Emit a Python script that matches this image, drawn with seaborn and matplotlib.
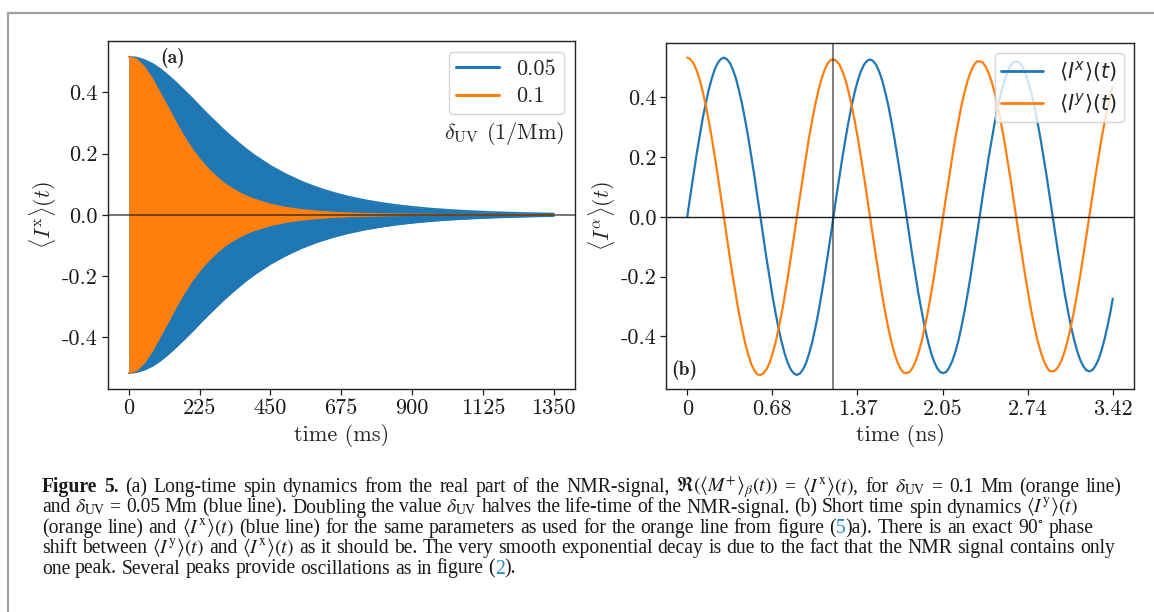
import matplotlib
matplotlib.use("Agg")
import matplotlib.pyplot as plt
import numpy as np
import pandas as pd
import seaborn as sns
from matplotlib.lines import Line2D
from matplotlib.font_manager import FontProperties

# ---------------- data ----------------
# (a) envelope of the fast NMR oscillation, long time scale
time_long_ms = [0, 25, 50, 75, 100, 125, 150, 175, 200, 225, 250, 275, 300, 325,
                350, 375, 400, 450, 500, 550, 600, 650, 700, 750, 800, 850, 900,
                950, 1000, 1050, 1100, 1150, 1200, 1250, 1300, 1350]
envelope_005 = [0.516, 0.513, 0.505, 0.493, 0.476, 0.455, 0.432, 0.407, 0.382,
                0.355, 0.329, 0.304, 0.279, 0.256, 0.234, 0.213, 0.194, 0.160,
                0.132, 0.108, 0.0884, 0.0723, 0.0591, 0.0482, 0.0394, 0.0321,
                0.0262, 0.0213, 0.0174, 0.0142, 0.0116, 0.0094, 0.0077, 0.0063,
                0.0051, 0.0042]
envelope_01 = [0.516, 0.507, 0.481, 0.443, 0.396, 0.349, 0.301, 0.256, 0.216,
               0.182, 0.152, 0.127, 0.105, 0.0873, 0.0724, 0.0600, 0.0497, 0.0341,
               0.0233, 0.0160, 0.0110, 0.0075, 0.0051, 0.0035, 0.0024, 0.0016,
               0.0011, 0.0008, 0.0005, 0.0004, 0.0002, 0.0002, 0.0001, 0.0001,
               0.0, 0.0]
delta_labels = ["0.05", "0.1"]
x_ticks_long = [0, 225, 450, 675, 900, 1125, 1350]
x_tick_labels_long = ["0", "225", "450", "675", "900", "1125", "1350"]
y_ticks = [0.4, 0.2, 0.0, -0.2, -0.4]
y_tick_labels = ["0.4", "0.2", "0.0", "-0.2", "-0.4"]

# (b) short time dynamics
time_short_ns = [
    0.000, 0.024, 0.049, 0.073, 0.098, 0.122, 0.147, 0.171, 0.196, 0.220, 0.245, 0.269,
    0.294, 0.318, 0.343, 0.367, 0.392, 0.416, 0.441, 0.465, 0.490, 0.514, 0.539, 0.563,
    0.588, 0.612, 0.636, 0.661, 0.685, 0.710, 0.734, 0.759, 0.783, 0.808, 0.832, 0.857,
    0.881, 0.906, 0.930, 0.955, 0.979, 1.004, 1.028, 1.053, 1.077, 1.102, 1.126, 1.151,
    1.175, 1.199, 1.224, 1.248, 1.273, 1.297, 1.322, 1.346, 1.371, 1.395, 1.420, 1.444,
    1.469, 1.493, 1.518, 1.542, 1.567, 1.591, 1.616, 1.640, 1.665, 1.689, 1.714, 1.738,
    1.762, 1.787, 1.811, 1.836, 1.860, 1.885, 1.909, 1.934, 1.958, 1.983, 2.007, 2.032,
    2.056, 2.081, 2.105, 2.130, 2.154, 2.179, 2.203, 2.228, 2.252, 2.277, 2.301, 2.326,
    2.350, 2.374, 2.399, 2.423, 2.448, 2.472, 2.497, 2.521, 2.546, 2.570, 2.595, 2.619,
    2.644, 2.668, 2.693, 2.717, 2.742, 2.766, 2.791, 2.815, 2.840, 2.864, 2.889, 2.913,
    2.937, 2.962, 2.986, 3.011, 3.035, 3.060, 3.084, 3.109, 3.133, 3.158, 3.182, 3.207,
    3.231, 3.256, 3.280, 3.305, 3.329, 3.354, 3.378, 3.403, 3.420]
ix_short = [
    0.000, 0.069, 0.138, 0.204, 0.266, 0.324, 0.376, 0.422, 0.461, 0.492, 0.514, 0.527,
    0.532, 0.527, 0.514, 0.492, 0.461, 0.422, 0.376, 0.324, 0.266, 0.204, 0.138, 0.069,
    0.000, -0.069, -0.137, -0.202, -0.265, -0.322, -0.374, -0.420, -0.458, -0.489, -0.511, -0.524,
    -0.529, -0.524, -0.511, -0.489, -0.458, -0.420, -0.374, -0.322, -0.265, -0.202, -0.137, -0.069,
    0.000, 0.069, 0.136, 0.201, 0.263, 0.320, 0.372, 0.417, 0.456, 0.486, 0.508, 0.521,
    0.526, 0.521, 0.508, 0.486, 0.456, 0.417, 0.372, 0.320, 0.263, 0.201, 0.136, 0.069,
    0.000, -0.068, -0.135, -0.200, -0.262, -0.318, -0.370, -0.415, -0.453, -0.483, -0.505, -0.519,
    -0.523, -0.519, -0.505, -0.483, -0.453, -0.415, -0.370, -0.318, -0.262, -0.200, -0.135, -0.068,
    0.000, 0.068, 0.135, 0.199, 0.260, 0.317, 0.368, 0.413, 0.450, 0.480, 0.502, 0.516,
    0.520, 0.516, 0.502, 0.480, 0.450, 0.413, 0.368, 0.317, 0.260, 0.199, 0.135, 0.068,
    0.000, -0.067, -0.134, -0.198, -0.259, -0.315, -0.366, -0.410, -0.448, -0.478, -0.499, -0.513,
    -0.517, -0.513, -0.499, -0.478, -0.448, -0.410, -0.366, -0.315, -0.274]
iy_short = [
    0.532, 0.527, 0.514, 0.492, 0.461, 0.422, 0.376, 0.324, 0.266, 0.204, 0.138, 0.069,
    0.000, -0.069, -0.138, -0.204, -0.266, -0.324, -0.376, -0.422, -0.461, -0.492, -0.514, -0.527,
    -0.529, -0.524, -0.511, -0.489, -0.458, -0.420, -0.374, -0.322, -0.265, -0.202, -0.137, -0.069,
    0.000, 0.069, 0.137, 0.202, 0.265, 0.322, 0.374, 0.420, 0.458, 0.489, 0.511, 0.524,
    0.526, 0.521, 0.508, 0.486, 0.456, 0.417, 0.372, 0.320, 0.263, 0.201, 0.136, 0.069,
    0.000, -0.069, -0.136, -0.201, -0.263, -0.320, -0.372, -0.417, -0.456, -0.486, -0.508, -0.521,
    -0.523, -0.519, -0.505, -0.483, -0.453, -0.415, -0.370, -0.318, -0.262, -0.200, -0.135, -0.068,
    0.000, 0.068, 0.135, 0.200, 0.262, 0.318, 0.370, 0.415, 0.453, 0.483, 0.505, 0.519,
    0.520, 0.516, 0.502, 0.480, 0.450, 0.413, 0.368, 0.317, 0.260, 0.199, 0.135, 0.068,
    0.000, -0.068, -0.135, -0.199, -0.260, -0.317, -0.368, -0.413, -0.450, -0.480, -0.502, -0.516,
    -0.517, -0.513, -0.499, -0.478, -0.448, -0.410, -0.366, -0.315, -0.259, -0.198, -0.134, -0.067,
    0.000, 0.067, 0.134, 0.198, 0.259, 0.315, 0.366, 0.410, 0.436]
short_labels = [r"$\langle I^x\rangle(t)$", r"$\langle I^y\rangle(t)$"]
x_ticks_short = [0, 0.684, 1.368, 2.052, 2.736, 3.42]
x_tick_labels_short = ["0", "0.68", "1.37", "2.05", "2.74", "3.42"]
period_marker_ns = 1.175

caption_lines = [
    r"*Figure *5. (a) Long-time spin dynamics from the real part of the NMR-signal, $\Re(\langle{}M^{+}\rangle_{\beta}(t))$ = $\langle{}I^{\mathrm{x}}\rangle(t)$, for $\delta_{\mathrm{UV}}$ = 0.1 Mm (orange line)",
    r"and $\delta_{\mathrm{UV}}$ = 0.05 Mm (blue line). Doubling the value $\delta_{\mathrm{UV}}$ halves the life-time of the NMR-signal. (b) Short time spin dynamics $\langle{}I^{\mathrm{y}}\rangle(t)$",
    r"(orange line) and $\langle{}I^{\mathrm{x}}\rangle(t)$ (blue line) for the same parameters as used for the orange line from figure (#5#)a). There is an exact 90$^{\circ}$ phase",
    r"shift between $\langle{}I^{\mathrm{y}}\rangle(t)$ and $\langle{}I^{\mathrm{x}}\rangle(t)$ as it should be. The very smooth exponential decay is due to the fact that the NMR signal contains only",
    r"one peak. Several peaks provide oscillations as in figure (#2#).",
]

# ---------------- style ----------------
BLUE = "#1f77b4"
ORANGE = "#ff7f0e"
sns.set_theme(style="ticks")
plt.rcParams["font.family"] = ["cmr10", "DejaVu Serif"]
plt.rcParams["mathtext.fontset"] = "cm"
plt.rcParams["axes.unicode_minus"] = False
plt.rcParams["axes.formatter.use_mathtext"] = True

FW, FH = 1154, 612
fig = plt.figure(figsize=(FW / 100, FH / 100), dpi=100)
fig.patch.set_facecolor("white")

axL = fig.add_axes([107.5 / FW, 1 - 389 / FH, 467.5 / FW, 348.3 / FH])
axR = fig.add_axes([666 / FW, 1 - 389.3 / FH, 468 / FW, 346.6 / FH])

# ---------------- panel (a) ----------------
dfL = pd.DataFrame({"t": time_long_ms, "e05": envelope_005, "e10": envelope_01})
for col, color in (("e05", BLUE), ("e10", ORANGE)):
    axL.fill_between(dfL["t"], -dfL[col], dfL[col], color=color, lw=0, zorder=1)
    sns.lineplot(x=dfL["t"], y=dfL[col], ax=axL, color=color, lw=1.2, zorder=1.5)
    sns.lineplot(x=dfL["t"], y=-dfL[col], ax=axL, color=color, lw=1.2, zorder=1.5)
axL.axhline(0, color="k", lw=1.3, alpha=0.65, zorder=3)
axL.set_xlim(-67.5, 1417.5)
axL.set_ylim(-0.568, 0.568)
axL.set_xticks(x_ticks_long)
axL.set_xticklabels(x_tick_labels_long)
axL.set_yticks(y_ticks)
axL.set_yticklabels(y_tick_labels)
axL.set_xlabel("time (ms)", fontsize=16, labelpad=4)
axL.set_ylabel(r"$\langle I^{\rm x}\rangle(t)$", fontsize=16, labelpad=2)
handlesL = [Line2D([], [], color=BLUE, lw=2.2), Line2D([], [], color=ORANGE, lw=2.2)]
legL = axL.legend(handlesL, delta_labels, loc="upper right", fontsize=16,
                  frameon=True, fancybox=True, framealpha=0.8, edgecolor="0.8",
                  handlelength=1.9, labelspacing=0.35, borderpad=0.35)
axL.text(0.977, 0.734, r"$\delta_{\rm UV}$ (1/Mm)", transform=axL.transAxes,
         ha="right", va="center", fontsize=16)
axL.text(0.112, 0.937, "(a)", transform=axL.transAxes, ha="left", va="baseline",
         fontsize=14, family="cmb10")

# ---------------- panel (b) ----------------
dfR = pd.DataFrame({"t": time_short_ns, "ix": ix_short, "iy": iy_short})
sns.lineplot(data=dfR, x="t", y="ix", ax=axR, color=BLUE, lw=1.6)
sns.lineplot(data=dfR, x="t", y="iy", ax=axR, color=ORANGE, lw=1.6)
axR.axhline(0, color="k", lw=1.0, zorder=3)
axR.axvline(period_marker_ns, color="k", lw=1.2, alpha=0.65, zorder=3)
axR.set_xlim(-0.171, 3.591)
axR.set_ylim(-0.577, 0.582)
axR.set_xticks(x_ticks_short)
axR.set_xticklabels(x_tick_labels_short)
axR.set_yticks(y_ticks)
axR.set_yticklabels(y_tick_labels)
axR.set_xlabel("time (ns)", fontsize=16, labelpad=4)
axR.set_ylabel(r"$\langle I^{\alpha}\rangle(t)$", fontsize=16, labelpad=2)
handlesR = [Line2D([], [], color=BLUE, lw=2.0), Line2D([], [], color=ORANGE, lw=2.0)]
legR = axR.legend(handlesR, short_labels, loc="upper right",
                  prop=FontProperties(family="DejaVu Sans", size=15, math_fontfamily="dejavusans"),
                  frameon=True, fancybox=True, framealpha=0.8, edgecolor="0.8",
                  handlelength=2.0, labelspacing=0.3, borderpad=0.3)
axR.text(0.012, 0.041, "(b)", transform=axR.transAxes, ha="left", va="baseline",
         fontsize=14, family="cmb10")

for ax in (axL, axR):
    ax.tick_params(axis="both", which="both", direction="out", length=4, width=0.9,
                   labelsize=16, pad=3, top=False, right=False, colors="k")
    for s in ax.spines.values():
        s.set_visible(True)
        s.set_color("#222222")
        s.set_linewidth(1.0)
    ax.grid(False)
    ax.set_facecolor("white")

# ---------------- page border ----------------
fig.add_artist(Line2D([8 / FW, 1.0], [1 - 12.5 / FH, 1 - 12.5 / FH], transform=fig.transFigure,
                      color="#a0a0a0", lw=1.6))
fig.add_artist(Line2D([8 / FW, 8 / FW], [0.0, 1 - 12.5 / FH], transform=fig.transFigure,
                      color="#a0a0a0", lw=1.6))

# ---------------- caption (justified) ----------------
LINK = "#2a8bc4"
cap_x0 = 42
cap_baselines = [492, 512.5, 533, 553, 573.5]
cap_right = [1122, 1078, 1094, 1115, None]
renderer = fig.canvas.get_renderer()


def parse_word(word):
    bold = word.startswith("*")
    if bold:
        word = word[1:]
    parts = word.split("#")
    out = []
    for k, p in enumerate(parts):
        if p == "":
            continue
        out.append((p, bold, k % 2 == 1))
    return out


def make_line(line, size):
    placed, widths = [], []
    for w in line.split(" "):
        pieces, off = [], 0.0
        for s, bold, colored in parse_word(w):
            t = fig.text(0, 0, s, fontsize=size, family="Liberation Serif",
                         weight="bold" if bold else "normal",
                         color=LINK if colored else "#1a1a1a",
                         math_fontfamily="stix", ha="left", va="baseline")
            pieces.append((t, off))
            off += t.get_window_extent(renderer).width
        placed.append(pieces)
        widths.append(off)
    return placed, widths


def space_width(size):
    a = fig.text(0, 0, "a a", fontsize=size, family="Liberation Serif")
    b = fig.text(0, 0, "aa", fontsize=size, family="Liberation Serif")
    w = a.get_window_extent(renderer).width - b.get_window_extent(renderer).width
    a.remove(); b.remove()
    return w


# fit the font size so the longest plain line fills its width with ordinary spacing
size = 13.0
for _ in range(2):
    pl, wd = make_line(caption_lines[3], size)
    natural = sum(wd) + space_width(size) * (len(wd) - 1)
    for pieces in pl:
        for t, _o in pieces:
            t.remove()
    size = size * (cap_right[3] - cap_x0 - 6) / natural

sp = space_width(size)
for line, yb, xr in zip(caption_lines, cap_baselines, cap_right):
    placed, widths = make_line(line, size)
    if xr is None:
        gap = sp
    else:
        gap = (xr - cap_x0 - sum(widths)) / max(len(widths) - 1, 1)
    x = cap_x0
    for pieces, wd in zip(placed, widths):
        for t, off in pieces:
            t.set_position(((x + off) / FW, 1 - yb / FH))
        x += wd + gap

fig.savefig("out.png", dpi=100, facecolor="white")
